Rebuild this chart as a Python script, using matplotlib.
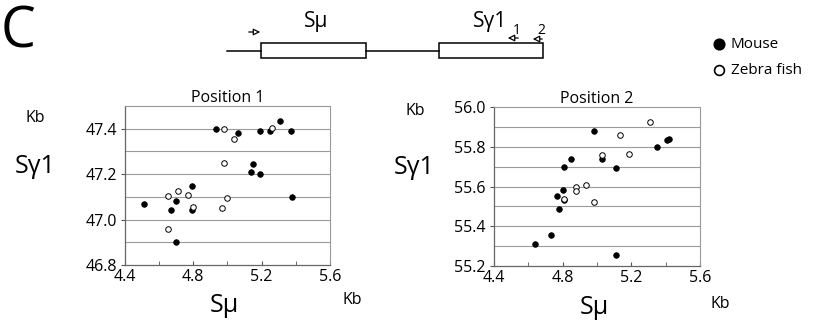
import numpy as np
import matplotlib.pyplot as plt
from matplotlib.patches import Rectangle
from matplotlib.ticker import MultipleLocator

plt.rcParams['font.family'] = ['Open Sans', 'DejaVu Sans']

# Position 1 (S-mu kb, S-gamma1 kb)
p1_mouse_x = [4.51, 4.70, 4.67, 4.79, 4.79, 4.70, 4.93, 5.06, 5.15, 5.14, 5.19, 5.19, 5.25, 5.31, 5.37, 5.38]
p1_mouse_y = [47.07, 47.08, 47.04, 47.15, 47.04, 46.90, 47.40, 47.38, 47.245, 47.21, 47.20, 47.39, 47.39, 47.435, 47.39, 47.10]
p1_fish_x = [4.98, 5.04, 5.26, 4.98, 5.00, 4.97, 4.65, 4.71, 4.77, 4.80, 4.65]
p1_fish_y = [47.40, 47.355, 47.405, 47.25, 47.095, 47.05, 47.105, 47.125, 47.11, 47.055, 46.96]

# Position 2
p2_mouse_x = [4.64, 4.73, 4.78, 4.765, 4.80, 4.81, 4.81, 4.85, 4.98, 5.03, 5.11, 5.11, 5.35, 5.41, 5.42]
p2_mouse_y = [55.31, 55.355, 55.485, 55.55, 55.58, 55.53, 55.70, 55.74, 55.88, 55.74, 55.695, 55.255, 55.80, 55.835, 55.84]
p2_fish_x = [4.81, 4.88, 4.875, 4.935, 4.98, 5.03, 5.135, 5.185, 5.31]
p2_fish_y = [55.535, 55.60, 55.575, 55.61, 55.52, 55.76, 55.86, 55.765, 55.925]

fig = plt.figure(figsize=(8.19, 3.24), dpi=100)


def panel(rect, mx, my, fx, fy, ylim, title):
    ax = fig.add_axes(rect)
    ax.scatter(mx, my, s=16, c='black', edgecolors='black', linewidths=0.6, zorder=3)
    ax.scatter(fx, fy, s=16, facecolors='white', edgecolors='black', linewidths=0.7, zorder=3)
    ax.set_xlim(4.4, 5.6)
    ax.set_ylim(*ylim)
    ax.set_xticks([4.4, 4.8, 5.2, 5.6])
    ax.xaxis.set_minor_locator(MultipleLocator(0.2))
    ax.set_yticks(np.arange(ylim[0], ylim[1] + 0.01, 0.2))
    ax.yaxis.set_major_formatter(plt.FormatStrFormatter('%.1f'))
    for g in np.arange(ylim[0] + 0.1, ylim[1] - 0.05, 0.1):
        ax.axhline(g, color='#9a9a9a', lw=0.8, zorder=1)
    ax.tick_params(axis='x', which='both', direction='in', length=3, labelsize=11.5, pad=3, color='#555555')
    ax.tick_params(axis='y', direction='out', length=3, labelsize=11.5, pad=3, color='#555555')
    for side in ['top', 'right']:
        ax.spines[side].set_color('#999999')
        ax.spines[side].set_linestyle((0, (1, 1)))
        ax.spines[side].set_linewidth(0.8)
    for side in ['left', 'bottom']:
        ax.spines[side].set_color('#666666')
        ax.spines[side].set_linewidth(0.9)
    ax.set_title(title, fontsize=11.5, pad=2)
    return ax


panel([0.1526, 0.1821, 0.2503, 0.4907], p1_mouse_x, p1_mouse_y, p1_fish_x, p1_fish_y,
      (46.8, 47.5), 'Position 1')
panel([0.6032, 0.179, 0.2515, 0.4907], p2_mouse_x, p2_mouse_y, p2_fish_x, p2_fish_y,
      (55.2, 56.0), 'Position 2')

# axis captions
fig.text(35 / 819, 1 - 118 / 324, 'Kb', fontsize=11.5, ha='center', va='center')
fig.text(35 / 819, 1 - 166 / 324, 'S\u03b31', fontsize=18, ha='center', va='center')
fig.text(415 / 819, 1 - 111 / 324, 'Kb', fontsize=11.5, ha='center', va='center')
fig.text(414 / 819, 1 - 168 / 324, 'S\u03b31', fontsize=18, ha='center', va='center')
fig.text(224 / 819, 1 - 306 / 324, 'S\u03bc', fontsize=18, ha='center', va='center')
fig.text(352 / 819, 1 - 300 / 324, 'Kb', fontsize=11.5, ha='center', va='center')
fig.text(594 / 819, 1 - 308 / 324, 'S\u03bc', fontsize=18, ha='center', va='center')
fig.text(720 / 819, 1 - 304 / 324, 'Kb', fontsize=11.5, ha='center', va='center')

# panel letter
fig.text(18 / 819, 1 - 33 / 324, 'C', fontsize=40, ha='center', va='center')

# legend
leg = fig.add_axes([0, 0, 1, 1], facecolor='none')
leg.set_xlim(0, 819)
leg.set_ylim(324, 0)
leg.axis('off')
leg.scatter([719], [44], s=60, c='black', edgecolors='black')
leg.scatter([719], [70], s=50, facecolors='white', edgecolors='black', linewidths=1.2)
leg.text(731, 45, 'Mouse', fontsize=11, va='center')
leg.text(731, 71, 'Zebra fish', fontsize=11, va='center')

# gene diagram
leg.plot([227, 261], [51, 51], color='black', lw=1.1)
leg.plot([366, 439], [51, 51], color='black', lw=1.1)
leg.add_patch(Rectangle((261, 43), 105, 15, fill=False, ec='black', lw=1.1))
leg.add_patch(Rectangle((439, 43), 104, 15, fill=False, ec='black', lw=1.1))
leg.annotate('', xy=(263, 32), xytext=(246, 32),
             arrowprops=dict(arrowstyle='-|>,head_length=0.4,head_width=0.2', fc='white', ec='black', lw=0.9))
leg.annotate('', xy=(505, 38), xytext=(521, 38),
             arrowprops=dict(arrowstyle='-|>,head_length=0.4,head_width=0.2', fc='white', ec='black', lw=0.9))
leg.annotate('', xy=(530, 39), xytext=(545, 39),
             arrowprops=dict(arrowstyle='-|>,head_length=0.4,head_width=0.2', fc='white', ec='black', lw=0.9))
leg.text(316, 22, 'S\u03bc', fontsize=15, ha='center', va='center')
leg.text(490, 22, 'S\u03b31', fontsize=15, ha='center', va='center')
leg.text(517, 31, '1', fontsize=10, ha='center', va='center')
leg.text(541, 31, '2', fontsize=10, ha='center', va='center')

fig.savefig('out.png', dpi=100)
